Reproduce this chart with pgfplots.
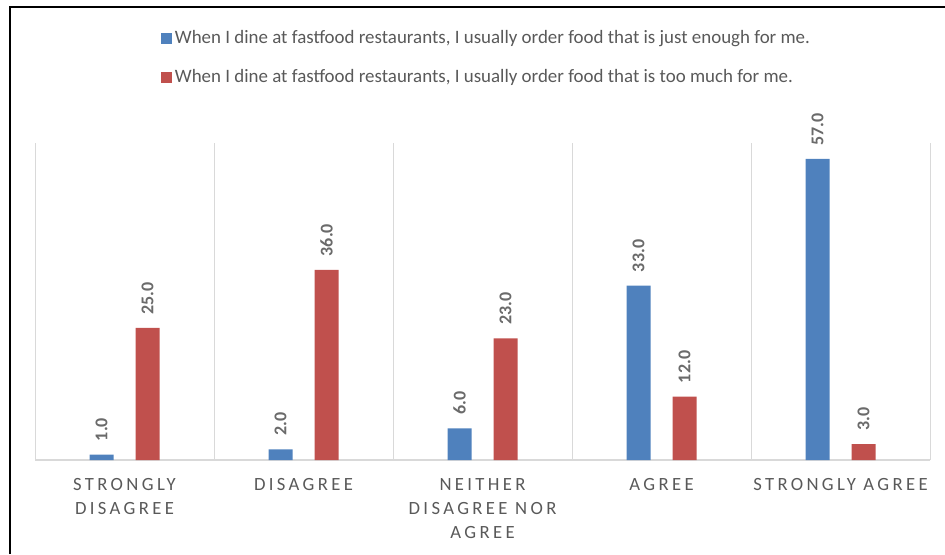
\documentclass[border=0pt]{standalone}
\usepackage{pgfplots}
\pgfplotsset{compat=1.18}
\usepackage{fontspec}
\setmainfont{Carlito}
\newfontfamily\spaced{Carlito}[LetterSpace=18]
\definecolor{cblue}{HTML}{4F81BD}
\definecolor{cred}{HTML}{C0504D}
\definecolor{txt}{HTML}{595959}
\definecolor{lbl}{HTML}{6A6A6A}
\definecolor{grd}{HTML}{D9D9D9}
\begin{document}
\begin{tikzpicture}[x=0.75pt,y=0.75pt]
\useasboundingbox (0,0) rectangle (945,554);
\draw[black, line width=1.5pt] (10,0) -- (10,547) -- (945,547);
\begin{axis}[
 at={(26.25pt,70.5pt)}, anchor=south west,
 scale only axis, width=671.25pt, height=237.75pt,
 xmin=-0.5, xmax=4.5, ymin=0, ymax=60,
 ytick=\empty,
 xtick={0,1,2,3,4},
 xticklabels={{STRONGLY\\DISAGREE},{DISAGREE},{NEITHER\\DISAGREE NOR\\AGREE},{AGREE},{STRONGLY AGREE}},
 xticklabel style={align=center, font=\spaced\fontsize{14}{18}\selectfont, text=txt, anchor=north, yshift=-10.5pt},
 minor xtick={-0.5,0.5,1.5,2.5,3.5,4.5},
 xminorgrids, minor grid style={grd, line width=0.75pt},
 major tick length=0pt, minor tick length=0pt,
 axis line style={draw=none},
 extra y ticks={0}, extra y tick labels={},
 extra y tick style={grid=major, major grid style={grd, line width=1.5pt}},
 ybar, bar width=18pt,
 /pgf/number format/assume math mode=true,
 nodes near coords={\pgfmathprintnumber[fixed,fixed zerofill,precision=1,assume math mode=true]{\pgfplotspointmeta}},
 every node near coord/.append style={rotate=90, anchor=west, inner xsep=10pt, font=\bfseries\fontsize{13.5}{16}\selectfont, text=lbl},
 legend style={at={(0.505,1.372)}, anchor=north, draw=none, fill=none, font=\fontsize{14.2}{16}\selectfont, text=txt, row sep=14pt},
 legend cell align=left,
 legend image code/.code={\fill[#1] (0pt,-4.1pt) rectangle (8.25pt,4.1pt);},
]
\addplot[fill=cblue, draw=none, bar shift=-17.25pt] coordinates {(0,1) (1,2) (2,6) (3,33) (4,57)};
\addlegendentry{When I dine at fastfood restaurants, I usually order food that is just enough for me.}
\addplot[fill=cred, draw=none, bar shift=17.25pt] coordinates {(0,25) (1,36) (2,23) (3,12) (4,3)};
\addlegendentry{When I dine at fastfood restaurants, I usually order food that is too much for me.}
\end{axis}
\end{tikzpicture}
\end{document}
